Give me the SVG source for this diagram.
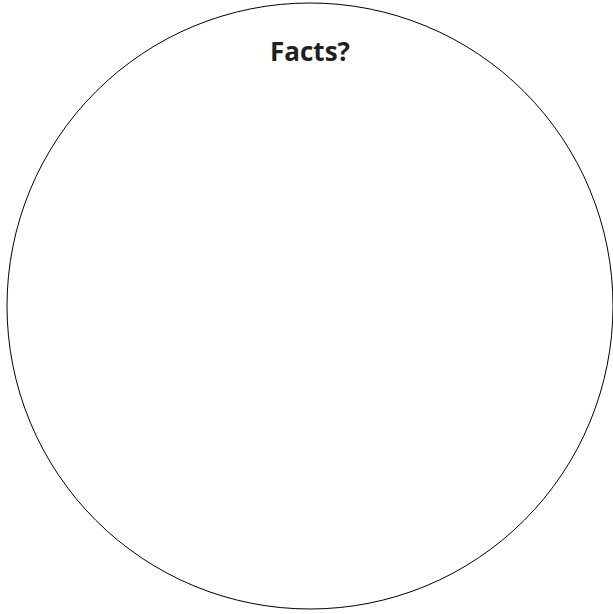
<svg xmlns="http://www.w3.org/2000/svg" width="613" height="614" viewBox="0 0 613 614">
<style>
.c{fill:#fff;stroke:#000;stroke-width:1}
.t{font-family:"Open Sans","Liberation Sans",sans-serif;font-weight:bold;font-size:26px;fill:#231f20}
</style>
<rect width="613" height="614" fill="#fff"/>
<g id="facts">
<circle class="c" cx="310" cy="306" r="303"/>
<text class="t" x="310" y="61" text-anchor="middle">Facts?</text>
</g>
</svg>
